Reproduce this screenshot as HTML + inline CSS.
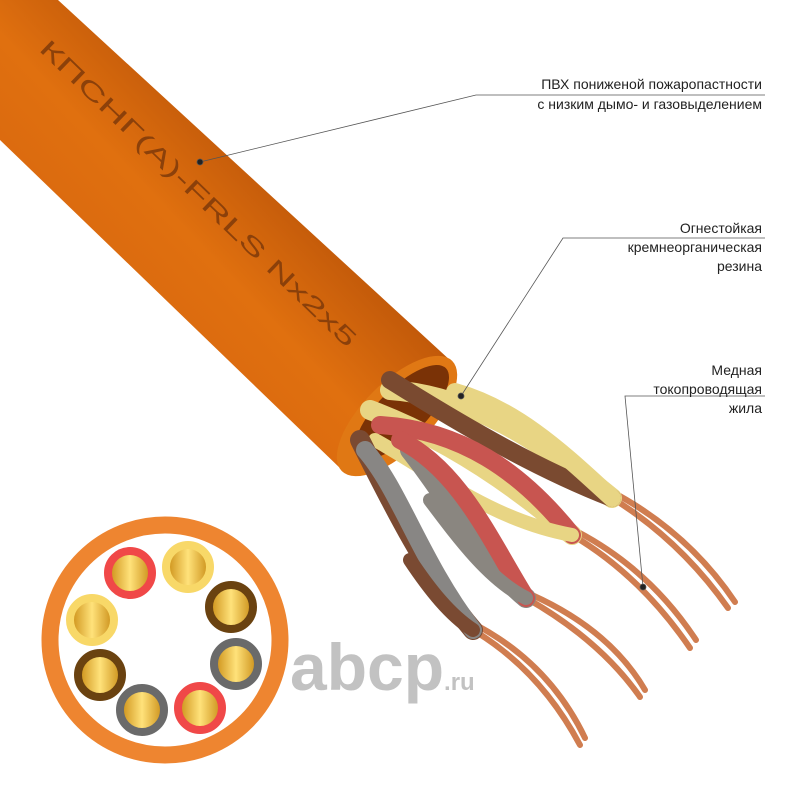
<!DOCTYPE html>
<html><head><style>body{margin:0;background:#fff}svg{display:block}text{font-family:"Liberation Sans","DejaVu Sans",sans-serif}</style></head>
<body>
<svg width="800" height="800" viewBox="0 0 800 800" xmlns="http://www.w3.org/2000/svg">
<defs>
<linearGradient id="cab" gradientUnits="userSpaceOnUse" x1="60" y1="260" x2="240" y2="90">
<stop offset="0" stop-color="#d9680f"/><stop offset="0.45" stop-color="#e0700f"/><stop offset="1" stop-color="#b85208"/></linearGradient>
<linearGradient id="gold" x1="0" x2="1"><stop offset="0" stop-color="#c98a10"/><stop offset="0.5" stop-color="#ffe27a"/><stop offset="1" stop-color="#c88a12"/></linearGradient>
</defs>
<rect width="800" height="800" fill="#fff"/>
<!-- cable body -->
<path d="M0,0 L58,0 L452,362 L342,470 L0,140 Z" fill="url(#cab)"/>
<ellipse cx="397" cy="416" rx="78" ry="34" transform="rotate(-45 397 416)" fill="#e07814"/>
<ellipse cx="402" cy="412" rx="62" ry="24" transform="rotate(-45 402 412)" fill="#7a3206"/>
<text x="0" y="0" font-size="24" fill="#7f3a0a" opacity="0.85" font-family="Liberation Mono" textLength="430" lengthAdjust="spacingAndGlyphs" transform="translate(38,50) rotate(44)">КПСНГ(А)-FRLS Nx2x5</text>
<!-- copper -->
<g stroke="#d07d50" stroke-width="6" stroke-linecap="round" fill="none">
<path d="M612,498 Q680,540 728,608"/><path d="M618,495 Q690,535 735,602"/>
<path d="M572,535 Q640,575 690,648"/><path d="M578,532 Q650,570 696,640"/>
<path d="M526,598 Q600,640 640,697"/><path d="M532,595 Q610,630 645,690"/>
<path d="M473,630 Q540,670 580,745"/><path d="M478,626 Q550,665 585,738"/>
</g>
<!-- wires -->
<g stroke-linecap="round" fill="none">
<path d="M390,390 C470,395 540,440 612,498" stroke="#e8d584" stroke-width="20"/>
<path d="M390,380 C470,430 540,470 612,498" stroke="#7a4a30" stroke-width="18"/>
<path d="M455,392 C520,410 570,460 612,498" stroke="#e8d584" stroke-width="18"/>
<path d="M370,410 C450,440 520,490 572,535" stroke="#e8d584" stroke-width="20"/>
<path d="M380,425 C460,430 520,470 572,535" stroke="#c85550" stroke-width="18"/>
<path d="M375,440 C430,470 490,520 572,535" stroke="#e8d584" stroke-width="14"/>
<path d="M410,450 C450,500 480,560 526,598" stroke="#8a8680" stroke-width="20"/>
<path d="M400,440 C460,470 490,540 526,598" stroke="#c85550" stroke-width="18"/>
<path d="M430,500 C460,540 490,580 526,598" stroke="#8a8680" stroke-width="14"/>
<path d="M360,440 C390,500 430,580 473,630" stroke="#7a4a32" stroke-width="20"/>
<path d="M365,450 C400,490 420,560 473,630" stroke="#888684" stroke-width="18"/>
<path d="M410,560 C430,590 450,615 473,630" stroke="#7a4a32" stroke-width="14"/>
</g>
<!-- leaders -->
<g stroke="#555" stroke-width="0.8" fill="none">
<path d="M200,162 L476,95 L765,95"/><circle cx="200" cy="162" r="3" fill="#222"/>
<path d="M461,396 L563,238 L765,238"/><circle cx="461" cy="396" r="3" fill="#222"/>
<path d="M643,587 L625,396 L765,396"/><circle cx="643" cy="587" r="3" fill="#222"/>
</g>
<g font-size="14" fill="#222" text-anchor="end">
<text x="762" y="89">ПВХ пониженой пожаропастности</text>
<text x="762" y="109">с низким дымо- и газовыделением</text>
<text x="762" y="233">Огнестойкая</text>
<text x="762" y="252">кремнеорганическая</text>
<text x="762" y="271">резина</text>
<text x="762" y="375">Медная</text>
<text x="762" y="394">токопроводящая</text>
<text x="762" y="413">жила</text>
</g>
<!-- cross-section -->
<circle cx="165" cy="640" r="115" fill="none" stroke="#ee8530" stroke-width="17"/>
<g stroke-width="8">
<circle cx="130" cy="573" r="22" stroke="#f04848" fill="url(#gold)"/>
<circle cx="188" cy="567" r="22" stroke="#f8d868" fill="url(#gold)"/>
<circle cx="231" cy="607" r="22" stroke="#6a4210" fill="url(#gold)"/>
<circle cx="236" cy="664" r="22" stroke="#6a6a6a" fill="url(#gold)"/>
<circle cx="200" cy="708" r="22" stroke="#f04848" fill="url(#gold)"/>
<circle cx="142" cy="710" r="22" stroke="#6a6a6a" fill="url(#gold)"/>
<circle cx="100" cy="675" r="22" stroke="#6a4210" fill="url(#gold)"/>
<circle cx="92" cy="620" r="22" stroke="#f8d868" fill="url(#gold)"/>
</g>
<text x="290" y="690" font-size="66" font-weight="bold" fill="#b8b8b8" opacity="0.85">abcp<tspan font-size="24">.ru</tspan></text>
</svg>
</body></html>
